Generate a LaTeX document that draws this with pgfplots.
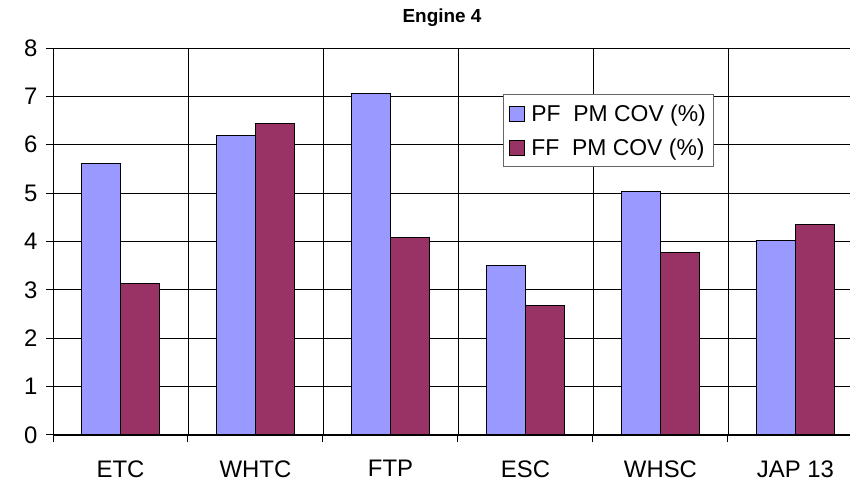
\documentclass[border=0pt]{standalone}
\usepackage{fontspec}
\setmainfont{Liberation Sans}
\usepackage{pgfplots}
\pgfplotsset{compat=1.18}
\definecolor{pfblue}{HTML}{9999FF}
\definecolor{ffred}{HTML}{993366}

\begin{document}
\begin{tikzpicture}
\path[use as bounding box] (0,0) rectangle (850bp,485bp);
\node[font=\fontsize{19}{21}\selectfont\bfseries] at (442bp,467bp) {Engine 4};
\begin{axis}[
  at={(53bp,50bp)}, anchor=south west,
  scale only axis,
  width=797bp, height=387bp,
  ybar=0pt, bar width=0.289,
  xmin=-0.5, xmax=5.404,
  ymin=0, ymax=8,
  ytick={0,1,...,8},
  xtick={-0.5,0.5,1.5,2.5,3.5,4.5},
  xticklabels={},
  extra x ticks={0,1,2,3,4,5},
  extra x tick labels={ETC,WHTC,FTP,ESC,WHSC,JAP 13},
  extra x tick style={grid=none, major tick length=0pt,
    tick label style={yshift=-22bp}},
  axis x line=bottom, axis y line=left,
  axis line style={-, black, line width=1bp},
  tick align=outside, major tick length=7bp,
  tick style={black, line width=1bp},
  grid=major,
  major grid style={black, line width=0.9bp},
  /pgf/number format/assume math mode=true,
  tick label style={font=\fontsize{24}{26}\selectfont},
  yticklabel style={xshift=-5bp},
  legend style={at={(0.5646,0.881)}, anchor=north west,
    draw=black!60, line width=1bp, fill=white,
    font=\fontsize{23}{25}\selectfont,
    inner xsep=6bp, inner ysep=8bp,
    row sep=12bp},
  legend cell align=left,
  legend image code/.code={\draw[#1, draw=black, line width=0.8bp] (0bp,-7.5bp) rectangle (15bp,7.5bp);
    \path (19bp,0bp);},
]
\addplot[fill=pfblue, draw=black, line width=1bp] coordinates {(0,5.62) (1,6.2) (2,7.05) (3,3.5) (4,5.03) (5,4.02)};
\addlegendentry{PF\ \ PM COV (\%)}
\addplot[fill=ffred, draw=black, line width=1bp] coordinates {(0,3.13) (1,6.43) (2,4.08) (3,2.68) (4,3.78) (5,4.35)};
\addlegendentry{FF\ \ PM COV (\%)}
\end{axis}
\end{tikzpicture}
\end{document}
